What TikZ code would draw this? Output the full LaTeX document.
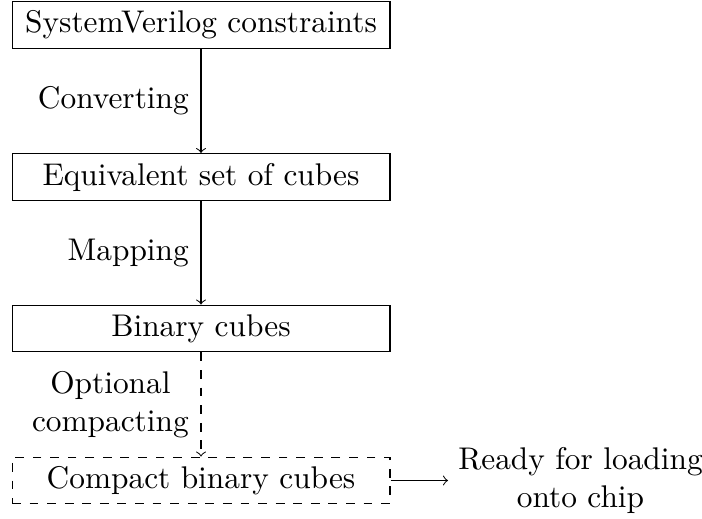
\documentclass[tikz,border=0pt]{standalone}
\usetikzlibrary{positioning}
\begin{document}
\begin{tikzpicture}[x=0.3413pt,y=-0.3413pt,
  font=\fontsize{10.7pt}{12.9pt}\selectfont,
  line width=0.35pt,
  stagebox/.style={draw,minimum width=129pt,minimum height=16pt,inner sep=3pt},
  optbox/.style={stagebox,dashed},
  flow/.style={->},
  steplabel/.style={anchor=east,align=center,inner sep=2pt,xshift=-2pt}]
  \useasboundingbox (0,0) rectangle (702,518);
  \node[stagebox] (sv)  at (201,25)    {SystemVerilog constraints};
  \node[stagebox] (eq)  at (201,177)   {Equivalent set of cubes};
  \node[stagebox] (bin) at (201,328.5) {Binary cubes};
  \node[optbox]   (cmp) at (201,480.5) {Compact binary cubes};
  \node[align=center,anchor=west] (rdy) at (448,480.5) {Ready for loading\\onto chip};
  \draw[flow] (sv) -- node[steplabel] (l1) {Converting} (eq);
  \draw[flow] (eq) -- node[steplabel] (l2) {Mapping} (bin);
  \draw[flow,dashed] (bin) -- node[steplabel] (l3) {Optional\\compacting} (cmp);
  \draw[flow] (cmp) -- (rdy);
\end{tikzpicture}
\end{document}
